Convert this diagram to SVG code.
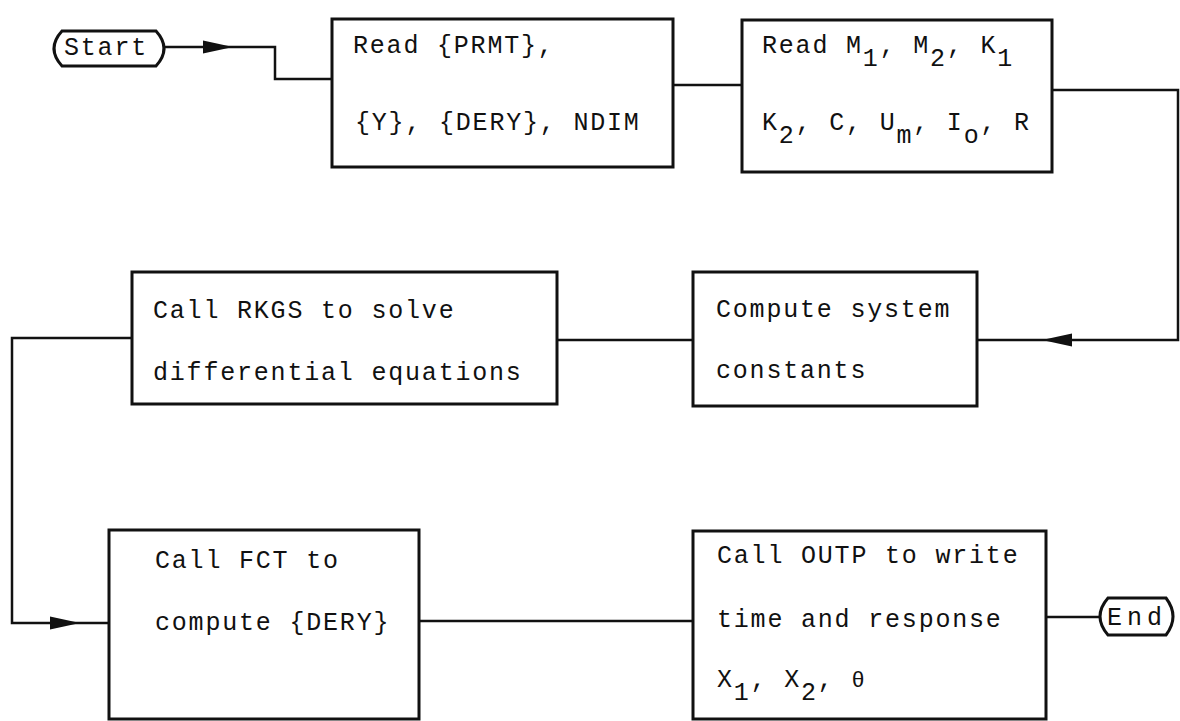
<svg xmlns="http://www.w3.org/2000/svg" width="1180" height="721" viewBox="0 0 1180 721">
<style>
.box{fill:#fff;stroke:#111;stroke-width:3}
.term{fill:#fff;stroke:#111;stroke-width:3}
.con{fill:none;stroke:#111;stroke-width:2.5}
.arr{fill:#111;stroke:none}
.t{font-family:"Liberation Mono","DejaVu Sans Mono",monospace;font-size:25px;letter-spacing:1.8px;fill:#111}
</style>
<defs>
<path id="arrowR" d="M0,0 L-30,-6.5 L-30,6.5 Z"/>
</defs>
<rect width="1180" height="721" fill="#fff"/>
<g id="connectors">
<polyline class="con" points="163,47 275,47 275,79 332,79"/>
<line class="con" x1="673" y1="85" x2="742" y2="85"/>
<polyline class="con" points="1052,90 1178,90 1178,340 977,340"/>
<line class="con" x1="693" y1="340" x2="557" y2="340"/>
<polyline class="con" points="132,338 12,338 12,623 109,623"/>
<line class="con" x1="419" y1="621" x2="693" y2="621"/>
<line class="con" x1="1046" y1="617" x2="1100" y2="617"/>
<use href="#arrowR" class="arr" transform="translate(233,47)"/>
<use href="#arrowR" class="arr" transform="translate(1042,340) rotate(180)"/>
<use href="#arrowR" class="arr" transform="translate(80,623)"/>
</g>
<g id="start">
<path class="term" d="M62,31 H156 Q172,48.5 156,66 H62 Q46,48.5 62,31 Z"/>
<text class="t" x="64" y="55">Start</text>
</g>
<g id="read-prmt">
<rect class="box" x="332" y="19" width="341" height="148"/>
<text class="t" x="353" y="53">Read {PRMT},</text>
<text class="t" x="355" y="130">{Y}, {DERY}, NDIM</text>
</g>
<g id="read-params">
<rect class="box" x="742" y="20" width="310" height="152"/>
<text class="t" x="762" y="53">Read M<tspan dy="13">1</tspan><tspan dy="-13">, M</tspan><tspan dy="13">2</tspan><tspan dy="-13">, K</tspan><tspan dy="13">1</tspan></text>
<text class="t" x="762" y="130">K<tspan dy="13">2</tspan><tspan dy="-13">, C, U</tspan><tspan dy="13">m</tspan><tspan dy="-13">, I</tspan><tspan dy="13">o</tspan><tspan dy="-13">, R</tspan></text>
</g>
<g id="compute-constants">
<rect class="box" x="693" y="272" width="284" height="134"/>
<text class="t" x="716" y="317">Compute system</text>
<text class="t" x="716" y="378">constants</text>
</g>
<g id="call-rkgs">
<rect class="box" x="132" y="272" width="425" height="132"/>
<text class="t" x="153" y="318">Call RKGS to solve</text>
<text class="t" x="153" y="380">differential equations</text>
</g>
<g id="call-fct">
<rect class="box" x="109" y="530" width="310" height="189"/>
<text class="t" x="155" y="568">Call FCT to</text>
<text class="t" x="155" y="630">compute {DERY}</text>
</g>
<g id="call-outp">
<rect class="box" x="693" y="531" width="353" height="188"/>
<text class="t" x="717" y="563">Call OUTP to write</text>
<text class="t" x="717" y="627">time and response</text>
<text class="t" x="717" y="687">X<tspan dy="13">1</tspan><tspan dy="-13">, X</tspan><tspan dy="13">2</tspan><tspan dy="-13">, </tspan><tspan style="font-size:22px">θ</tspan></text>
</g>
<g id="end">
<path class="term" d="M1108,598 H1166 Q1180,616.5 1166,635 H1108 Q1092,616.5 1108,598 Z"/>
<text class="t" x="1107" y="625" style="letter-spacing:5px">End</text>
</g>
</svg>
